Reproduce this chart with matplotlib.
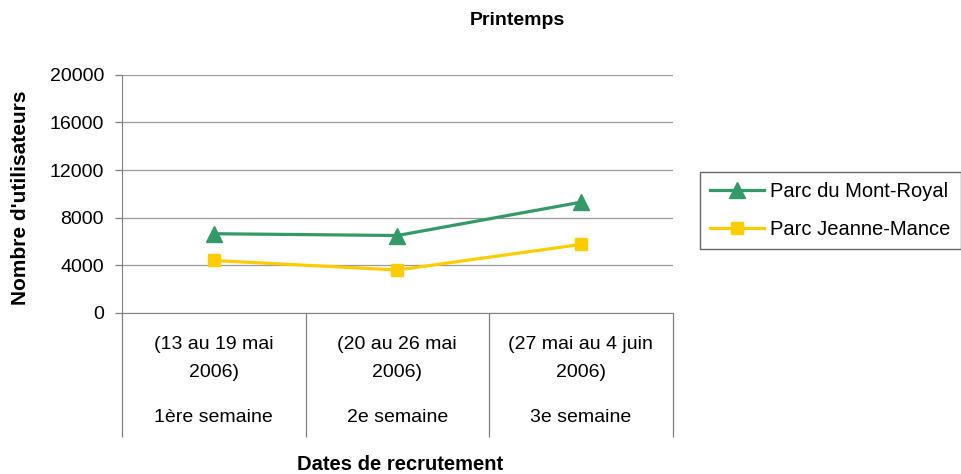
import matplotlib
matplotlib.use('Agg')
import matplotlib.pyplot as plt

plt.rcParams['font.family'] = ['Liberation Sans', 'DejaVu Sans']

# data
periodes = ['(13 au 19 mai', '(20 au 26 mai', '(27 mai au 4 juin']
annees = ['2006)', '2006)', '2006)']
semaines = ['1ère semaine', '2e semaine', '3e semaine']
mont_royal = [6650, 6500, 9300]
jeanne_mance = [4400, 3600, 5750]
yticks = [0, 4000, 8000, 12000, 16000, 20000]

fig = plt.figure(figsize=(9.61, 4.74), dpi=100)
ax = fig.add_axes([0.127, 0.34, 0.573, 0.502])

xpos = [i + 0.5 for i in range(len(periodes))]
ax.plot(xpos, mont_royal, color='#339966', lw=2.3, marker='^', ms=11,
        label='Parc du Mont-Royal')
ax.plot(xpos, jeanne_mance, color='#FFCC00', lw=2.3, marker='s', ms=9,
        label='Parc Jeanne-Mance')

ax.set_xlim(0, 3)
ax.set_ylim(0, 20000)
ax.set_yticks(yticks)
ax.set_yticklabels([str(v) for v in yticks], fontsize=14)
ax.grid(axis='y', color='#999999', lw=0.9)
ax.set_axisbelow(True)

# category separators as long ticks
ax.set_xticks([0, 1, 2, 3])
ax.set_xticklabels([])
ax.tick_params(axis='x', length=89, width=0.9, color='#808080', direction='out')
ax.tick_params(axis='y', length=5, width=0.9, color='#808080', pad=8)
for s in ['top', 'right']:
    ax.spines[s].set_visible(False)
for s in ['left', 'bottom']:
    ax.spines[s].set_color('#808080')

for x, p, a, w in zip(xpos, periodes, annees, semaines):
    for txt, off in [(p, -23), (a, -43), (w, -75)]:
        ax.annotate(txt, (x, 0), xycoords=('data', 'axes fraction'),
                    xytext=(0, off), textcoords='offset points',
                    ha='center', va='center', fontsize=14)

fig.text(0.538, 0.957, 'Printemps', ha='center', va='center', fontsize=14,
         fontweight='bold')
fig.text(0.416, 0.019, 'Dates de recrutement', ha='center', va='center',
         fontsize=14.5, fontweight='bold')
fig.text(0.021, 0.582, "Nombre d'utilisateurs", rotation=90, ha='center',
         va='center', fontsize=15, fontweight='bold')

leg = fig.legend(loc='upper left', bbox_to_anchor=(0.728, 0.637), fontsize=14.5,
                 frameon=True, fancybox=False, edgecolor='#404040',
                 handlelength=2.7, borderpad=0.5, labelspacing=0.95,
                 handletextpad=0.3, borderaxespad=0)
leg.get_frame().set_linewidth(1.0)

fig.savefig('out.png', dpi=100)
